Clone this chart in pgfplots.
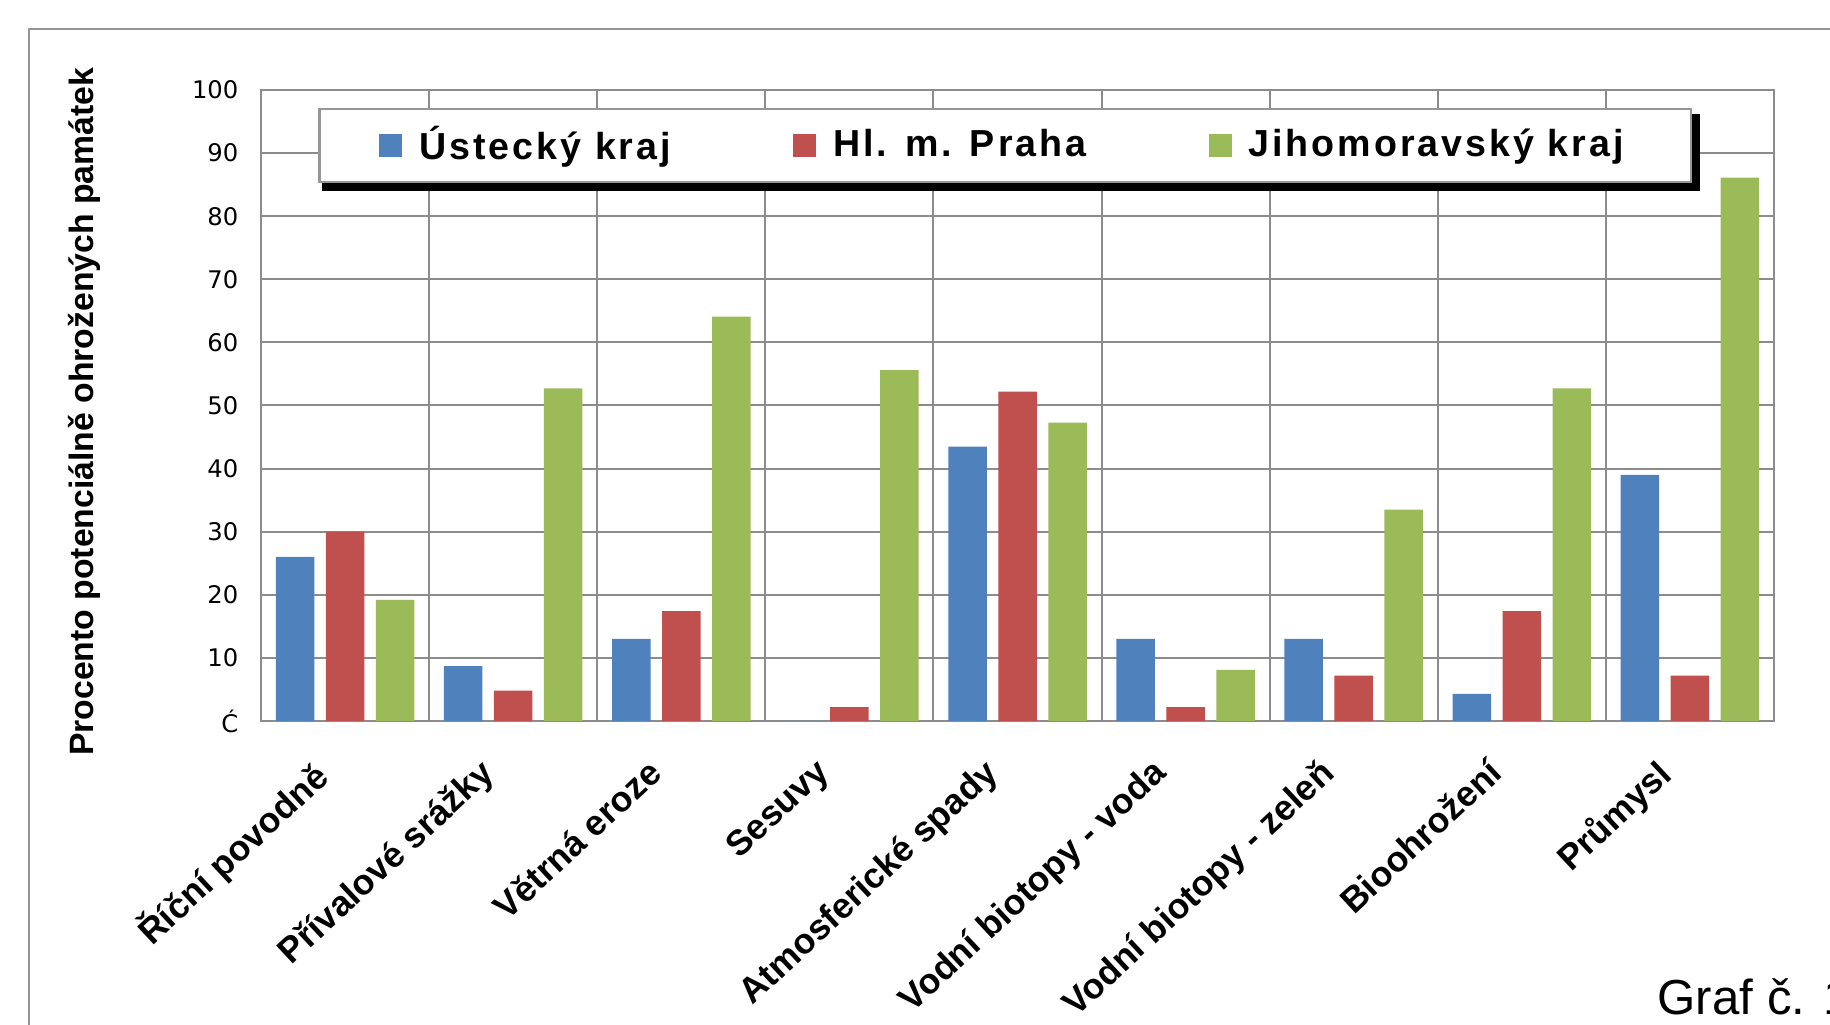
\documentclass[border=0pt]{standalone}
\usepackage{pgfplots}
\pgfplotsset{compat=1.18}
\usepackage{fontspec}
\setmainfont{Liberation Sans}
\newfontfamily\tickfont{DejaVu Sans}
\newfontfamily\legfont[LetterSpace=8]{Liberation Sans}
\definecolor{cblue}{RGB}{79,129,189}
\definecolor{cred}{RGB}{192,80,77}
\definecolor{cgreen}{RGB}{155,187,89}
\definecolor{gridc}{RGB}{140,140,140}
\definecolor{framec}{RGB}{150,150,150}
\begin{document}
\begin{tikzpicture}[x=1mm,y=1mm]
\useasboundingbox (0,0) rectangle (183,102.5);
\clip (0,0) rectangle (183,102.5);
\draw[framec,line width=0.25mm] (2.9,-10) rectangle (200,99.6);
\begin{axis}[
  at={(26.1mm,30.4mm)}, anchor=south west,
  scale only axis, width=151.3mm, height=63.1mm,
  xmin=-0.5, xmax=8.5, ymin=0, ymax=100,
  xtick={0,...,8},
  xticklabels={Říční povodně, Přívalové srážky, Větrná eroze, Sesuvy, Atmosferické spady, Vodní biotopy - voda, Vodní biotopy - zeleň, Bioohrožení, Průmysl},
  minor xtick={-0.5,0.5,...,8.5},
  xminorgrids=true, ymajorgrids=true,
  ytick={0,10,...,100},
  yticklabels={Ć,10,20,30,40,50,60,70,80,90,100},
  major tick length=0pt, minor tick length=0pt,
  axis line style={draw=gridc, line width=0.25mm},
  grid style={draw=gridc, line width=0.2mm},
  minor grid style={draw=gridc, line width=0.2mm},
  yticklabel style={font=\tickfont\fontsize{6.9}{8}\selectfont, inner sep=0pt, anchor=east, xshift=-2.2mm},
  xticklabel style={font=\bfseries\fontsize{10.1}{12}\selectfont, xshift=-3.57mm, yshift=-3.45mm, rotate=43, anchor=north east, inner sep=0pt},
  ylabel={Procento potenciálně ohrožených památek},
  every axis y label/.style={at={(axis description cs:-0.117,0.49)}, rotate=90, anchor=center, font=\bfseries\fontsize{9.6}{11}\selectfont},
  ybar=1.15mm, bar width=3.85mm,
  legend columns=3,
  legend image code/.code={\fill[#1] (0mm,-1.15mm) rectangle (2.3mm,1.15mm);},
  legend style={name=leg, at={(axis description cs:0.0377,0.9715)}, anchor=north west,
    draw=framec, line width=0.25mm, fill=white,
    font=\legfont\bfseries\fontsize{10.7}{12}\selectfont,
    inner xsep=6.0mm, inner ysep=1.0mm,
    /tikz/every odd column/.append style={column sep=1.0mm},
    /tikz/every even column/.append style={column sep=11.5mm},
    legend cell align=left},
]
\addplot[fill=cblue, draw=none] coordinates {(0,26) (1,8.7) (2,13) (3,0) (4,43.5) (5,13) (6,13) (7,4.3) (8,39)};
\addplot[fill=cred, draw=none] coordinates {(0,30) (1,4.8) (2,17.4) (3,2.2) (4,52.2) (5,2.2) (6,7.2) (7,17.4) (8,7.2)};
\addplot[fill=cgreen, draw=none] coordinates {(0,19.2) (1,52.7) (2,64.1) (3,55.6) (4,47.3) (5,8.1) (6,33.5) (7,52.7) (8,86.1)};
\legend{Ústecký kraj, Hl. m. Praha, Jihomoravský kraj}
\end{axis}
\fill[black] ([shift={(0mm,-0.6mm)}]leg.north east) rectangle ([shift={(0.75mm,-0.75mm)}]leg.south east);
\fill[black] ([shift={(0.4mm,0mm)}]leg.south west) rectangle ([shift={(0.75mm,-0.75mm)}]leg.south east);
\node[anchor=base west, inner sep=0pt, font=\fontsize{14}{16}\selectfont] at (165.7,1.0) {Graf č. 1};
\end{tikzpicture}
\end{document}
